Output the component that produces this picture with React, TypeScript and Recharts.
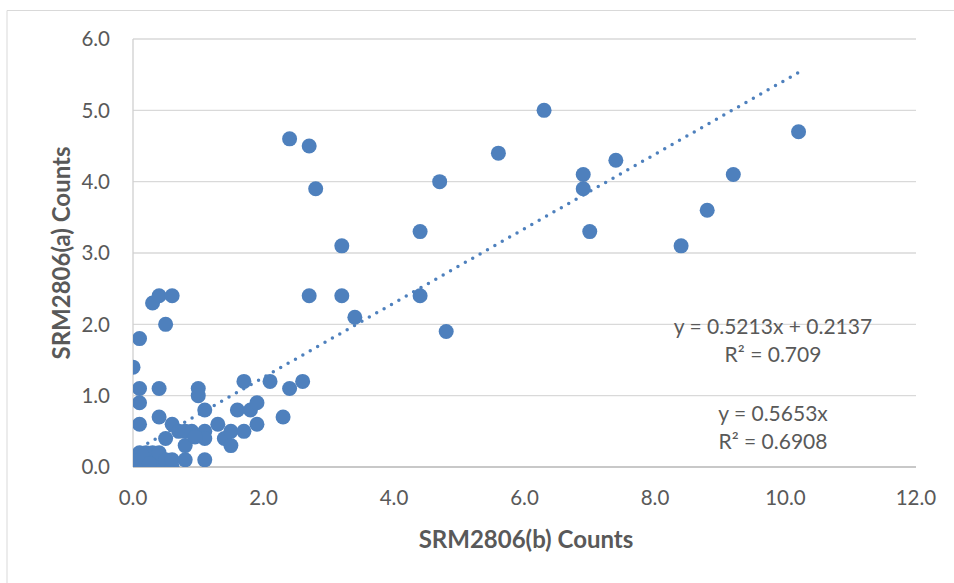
import React from 'react';
import { ScatterChart, Scatter, XAxis, YAxis, CartesianGrid, Customized } from 'recharts';

// SRM2806(b) counts (x) and SRM2806(a) counts (y)
const bCounts = [
  0.0, 0.0, 0.1, 0.1, 0.1, 0.2, 0.2, 0.2, 0.3, 0.3, 0.3, 0.4, 0.4, 0.4, 0.5, 0.6, 0.6, 0.05, 0.15, 0.25,
  0.0, 0.1, 0.1, 0.1, 0.1, 0.3, 0.4, 0.6, 0.5, 0.4, 0.4, 0.5, 0.6, 0.7, 0.8, 0.8, 0.8, 0.9, 1.0, 1.0,
  1.1, 1.1, 1.1, 1.1, 1.3, 1.4, 1.5, 1.5, 1.6, 1.7, 1.7, 1.8, 1.9, 1.9, 2.1, 2.3, 2.4, 2.6, 2.4, 2.7,
  2.8, 3.2, 2.7, 3.2, 3.4, 4.4, 4.4, 4.7, 4.8, 5.6, 6.3, 6.9, 6.9, 7.0, 7.4, 8.4, 8.8, 9.2, 10.2, 0.95,
];
const aCounts = [
  0.0, 0.1, 0.0, 0.1, 0.2, 0.0, 0.1, 0.2, 0.0, 0.1, 0.2, 0.0, 0.1, 0.2, 0.1, 0.0, 0.1, 0.05, 0.15, 0.05,
  1.4, 1.8, 1.1, 0.9, 0.6, 2.3, 2.4, 2.4, 2.0, 1.1, 0.7, 0.4, 0.6, 0.5, 0.5, 0.3, 0.1, 0.5, 1.1, 1.0,
  0.8, 0.5, 0.4, 0.1, 0.6, 0.4, 0.5, 0.3, 0.8, 1.2, 0.5, 0.8, 0.9, 0.6, 1.2, 0.7, 1.1, 1.2, 4.6, 4.5,
  3.9, 3.1, 2.4, 2.4, 2.1, 3.3, 2.4, 4.0, 1.9, 4.4, 5.0, 4.1, 3.9, 3.3, 4.3, 3.1, 3.6, 4.1, 4.7, 0.42,
];

// Linear trendline endpoints (y = 0.5213x + 0.2137)
const trendX = [0, 10.2];
const trendY = [0.2137, 5.531];

const xTicks = [0, 2, 4, 6, 8, 10, 12];
const yTicks = [0, 1, 2, 3, 4, 5, 6];

const points = bCounts.map((b, i) => ({ x: b, y: aCounts[i] }));
const trend = trendX.map((x, i) => ({ x, y: trendY[i] }));

const BLUE = '#4E80BD';
const TEXT = '#595959';
const FONT = 'Lato, "Open Sans", sans-serif';

const Dot = (props: any) => {
  const { cx, cy } = props;
  if (cx == null || cy == null) return null;
  return <circle cx={cx} cy={cy} r={7.5} fill={BLUE} />;
};

const Overlay = () => (
  <g fontFamily={FONT}>
    <line x1={7} y1={10.5} x2={954} y2={10.5} stroke="#D9D9D9" strokeWidth={1} />
    <line x1={7} y1={10.5} x2={7} y2={583} stroke="#D9D9D9" strokeWidth={1} />
    <text x={526} y={538} textAnchor="middle" dominantBaseline="central" fontSize={24} fontWeight="bold" fill={TEXT}>
      SRM2806(b) Counts
    </text>
    <text
      x={60}
      y={253}
      textAnchor="middle"
      dominantBaseline="central"
      fontSize={24}
      fontWeight="bold"
      fill={TEXT}
      transform="rotate(-90 60 253)"
    >
      SRM2806(a) Counts
    </text>
    <text x={773} y={325} textAnchor="middle" dominantBaseline="central" fontSize={21} fill={TEXT}>
      y = 0.5213x + 0.2137
    </text>
    <text x={773} y={353} textAnchor="middle" dominantBaseline="central" fontSize={21} fill={TEXT}>
      R² = 0.709
    </text>
    <text x={773} y={412} textAnchor="middle" dominantBaseline="central" fontSize={21} fill={TEXT}>
      y = 0.5653x
    </text>
    <text x={773} y={440} textAnchor="middle" dominantBaseline="central" fontSize={21} fill={TEXT}>
      R² = 0.6908
    </text>
  </g>
);

export default function App() {
  return (
    <div style={{ position: 'absolute', left: 0, top: 0, width: 954, height: 583, background: '#fff' }}>
      <ScatterChart width={954} height={583} margin={{ top: 39, right: 38, bottom: 86, left: 75 }}>
        <CartesianGrid horizontal vertical={false} stroke="#D9D9D9" strokeWidth={1.3} />
        <XAxis
          type="number"
          dataKey="x"
          domain={[0, 12]}
          ticks={xTicks}
          height={30}
          tickFormatter={(v: number) => v.toFixed(1)}
          tickLine={false}
          tickSize={0}
          tickMargin={23}
          axisLine={{ stroke: '#BFBFBF', strokeWidth: 1.5 }}
          tick={{ fill: TEXT, fontSize: 20.5, fontFamily: FONT }}
          allowDataOverflow
        />
        <YAxis
          type="number"
          dataKey="y"
          domain={[0, 6]}
          ticks={yTicks}
          width={58}
          tickFormatter={(v: number) => v.toFixed(1)}
          tickLine={false}
          tickSize={0}
          tickMargin={23}
          axisLine={{ stroke: '#D0D0D0', strokeWidth: 1.3 }}
          tick={{ fill: TEXT, fontSize: 20.5, fontFamily: FONT }}
          allowDataOverflow
        />
        <Scatter data={points} shape={<Dot />} isAnimationActive={false} />
        <Scatter
          data={trend}
          line={{ stroke: BLUE, strokeWidth: 3.5, strokeDasharray: '0 8.5', strokeLinecap: 'round' }}
          shape={() => null}
          isAnimationActive={false}
        />
        <Customized component={Overlay} />
      </ScatterChart>
    </div>
  );
}
